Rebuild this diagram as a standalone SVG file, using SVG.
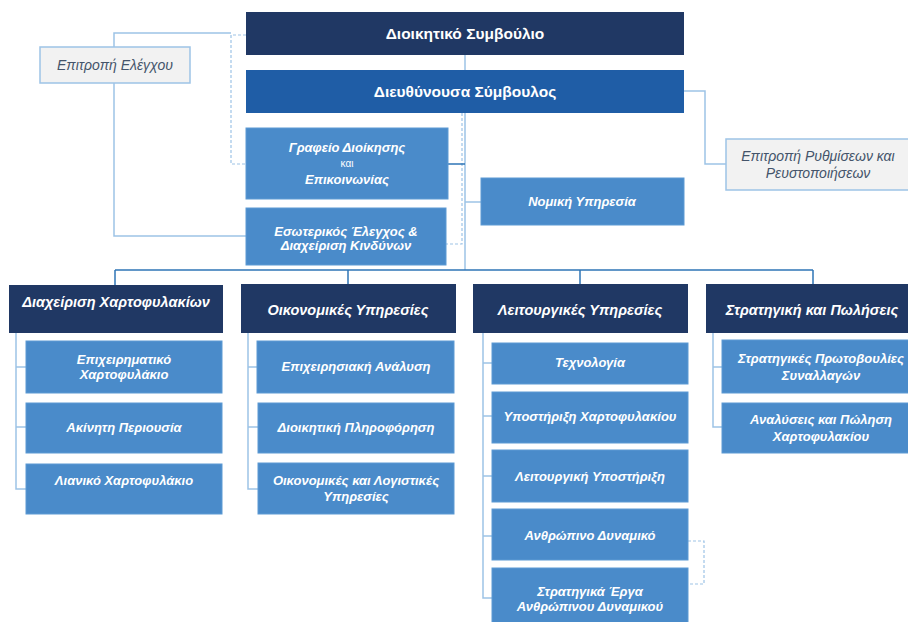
<svg xmlns="http://www.w3.org/2000/svg" width="908" height="622" viewBox="0 0 908 622">
<style>
text{font-family:"Liberation Sans","DejaVu Sans",sans-serif;text-anchor:middle}
.dark{fill:#203864}
.ceo{fill:#1f5da6}
.lb{fill:#4a8bca;stroke:#5d9ad4;stroke-width:1}
.gray{fill:#f2f2f2;stroke:#9dc3e6;stroke-width:1.5}
.tw{fill:#ffffff;font-weight:bold;font-size:15.5px}
.th{fill:#ffffff;font-weight:bold;font-style:italic;font-size:14.5px}
.tc{fill:#ffffff;font-weight:bold;font-style:italic;font-size:13px}
.tg{fill:#44546a;font-style:italic;font-size:14px}
.lt{fill:none;stroke:#9dc3e6;stroke-width:1.5}
.md{fill:none;stroke:#2e75b6;stroke-width:1.5}
.dash{fill:none;stroke:#9dc3e6;stroke-width:1.2;stroke-dasharray:3 2}
</style>
<rect width="908" height="622" fill="#ffffff"/>
<g id="connectors">
  <polyline class="lt" points="231,33 114,33 114,236 246,236"/>
  <polyline class="dash" points="246,35 231,35 231,164 246,164"/>
  <line class="lt" x1="465" y1="55" x2="465" y2="270"/>
  <polyline class="dash" points="462,113 462,244 446,244"/>
  <line class="md" x1="448" y1="164" x2="465" y2="164"/>
  <line class="lt" x1="465" y1="202" x2="481" y2="202"/>
  <polyline class="lt" points="684,91 705,91 705,164 726,164"/>
  <line class="md" x1="115" y1="270" x2="813" y2="270"/>
  <line class="md" x1="115" y1="270" x2="115" y2="285"/>
  <line class="md" x1="348" y1="270" x2="348" y2="284"/>
  <line class="md" x1="580" y1="270" x2="580" y2="284"/>
  <line class="md" x1="813" y1="270" x2="813" y2="284"/>
  <polyline class="lt" points="16,333 16,489 26,489"/>
  <line class="lt" x1="16" y1="367" x2="26" y2="367"/>
  <line class="lt" x1="16" y1="427" x2="26" y2="427"/>
  <polyline class="lt" points="248,333 248,489 258,489"/>
  <line class="lt" x1="248" y1="367" x2="258" y2="367"/>
  <line class="lt" x1="248" y1="427" x2="258" y2="427"/>
  <polyline class="lt" points="483,333 483,598 492,598"/>
  <line class="lt" x1="483" y1="363" x2="492" y2="363"/>
  <line class="lt" x1="483" y1="416" x2="492" y2="416"/>
  <line class="lt" x1="483" y1="476" x2="492" y2="476"/>
  <line class="lt" x1="483" y1="536" x2="492" y2="536"/>
  <polyline class="dash" points="688,541 704,541 704,584 688,584"/>
  <polyline class="lt" points="713,333 713,427 722,427"/>
  <line class="lt" x1="713" y1="367" x2="722" y2="367"/>
</g>
<g id="board"><rect class="dark" x="246" y="12" width="438" height="43"/><text class="tw" x="465" y="39">Διοικητικό Συμβούλιο</text></g>
<g id="ceo"><rect class="ceo" x="246" y="70" width="438" height="43"/><text class="tw" x="465" y="97">Διευθύνουσα Σύμβουλος</text></g>
<g id="audit-committee"><rect class="gray" x="40" y="47" width="150" height="36"/><text class="tg" x="115" y="70">Επιτροπή Ελέγχου</text></g>
<g id="restructuring-committee"><rect class="gray" x="726" y="139" width="190" height="51"/><text class="tg" x="818" y="161">Επιτροπή Ρυθμίσεων και</text><text class="tg" x="818" y="178">Ρευστοποιήσεων</text></g>
<g id="office"><rect class="lb" x="246" y="128" width="202" height="71"/><text class="tc" x="347" y="152">Γραφείο Διοίκησης</text><text x="347" y="167" style="fill:#fff;font-size:10px">και</text><text class="tc" x="347" y="184">Επικοινωνίας</text></g>
<g id="internal-audit"><rect class="lb" x="246" y="208" width="200" height="57"/><text class="tc" x="346" y="236">Εσωτερικός Έλεγχος &amp;</text><text class="tc" x="346" y="250">Διαχείριση Κινδύνων</text></g>
<g id="legal"><rect class="lb" x="481" y="178" width="203" height="47"/><text class="tc" x="582" y="206">Νομική Υπηρεσία</text></g>

<g id="portfolio-mgmt"><rect class="dark" x="9" y="285" width="214" height="48"/><text class="th" x="116" y="307">Διαχείριση  Χαρτοφυλακίων</text></g>
<g id="business-portfolio"><rect class="lb" x="26" y="341" width="196" height="52"/><text class="tc" x="124" y="364">Επιχειρηματικό</text><text class="tc" x="124" y="379">Χαρτοφυλάκιο</text></g>
<g id="real-estate"><rect class="lb" x="26" y="403" width="196" height="50"/><text class="tc" x="124" y="432">Ακίνητη Περιουσία</text></g>
<g id="retail-portfolio"><rect class="lb" x="26" y="464" width="196" height="50"/><text class="tc" x="124" y="485">Λιανικό Χαρτοφυλάκιο</text></g>

<g id="finance"><rect class="dark" x="241" y="284" width="215" height="49"/><text class="th" x="348" y="315">Οικονομικές  Υπηρεσίες</text></g>
<g id="business-analysis"><rect class="lb" x="257" y="341" width="197" height="52"/><text class="tc" x="356" y="371">Επιχειρησιακή Ανάλυση</text></g>
<g id="mis"><rect class="lb" x="258" y="403" width="196" height="50"/><text class="tc" x="356" y="432">Διοικητική Πληροφόρηση</text></g>
<g id="accounting"><rect class="lb" x="258" y="463" width="196" height="51"/><text class="tc" x="356" y="485">Οικονομικές και Λογιστικές</text><text class="tc" x="356" y="501">Υπηρεσίες</text></g>

<g id="operations"><rect class="dark" x="473" y="284" width="215" height="49"/><text class="th" x="580" y="315">Λειτουργικές  Υπηρεσίες</text></g>
<g id="technology"><rect class="lb" x="492" y="343" width="196" height="41"/><text class="tc" x="590" y="367">Τεχνολογία</text></g>
<g id="portfolio-support"><rect class="lb" x="492" y="392" width="196" height="51"/><text class="tc" x="590" y="421">Υποστήριξη Χαρτοφυλακίου</text></g>
<g id="operational-support"><rect class="lb" x="492" y="450" width="196" height="52"/><text class="tc" x="590" y="481">Λειτουργική Υποστήριξη</text></g>
<g id="hr"><rect class="lb" x="492" y="509" width="196" height="51"/><text class="tc" x="590" y="540">Ανθρώπινο Δυναμικό</text></g>
<g id="hr-projects"><rect class="lb" x="492" y="568" width="196" height="56"/><text class="tc" x="590" y="596">Στρατηγικά Έργα</text><text class="tc" x="590" y="611">Ανθρώπινου Δυναμικού</text></g>

<g id="strategy"><rect class="dark" x="706" y="284" width="214" height="49"/><text class="th" x="812" y="315">Στρατηγική  και Πωλήσεις</text></g>
<g id="strategic-initiatives"><rect class="lb" x="722" y="340" width="198" height="53"/><text class="tc" x="821" y="363">Στρατηγικές Πρωτοβουλίες</text><text class="tc" x="821" y="380">Συναλλαγών</text></g>
<g id="portfolio-sales"><rect class="lb" x="722" y="403" width="198" height="50"/><text class="tc" x="821" y="424">Αναλύσεις και Πώληση</text><text class="tc" x="821" y="441">Χαρτοφυλακίου</text></g>
</svg>
